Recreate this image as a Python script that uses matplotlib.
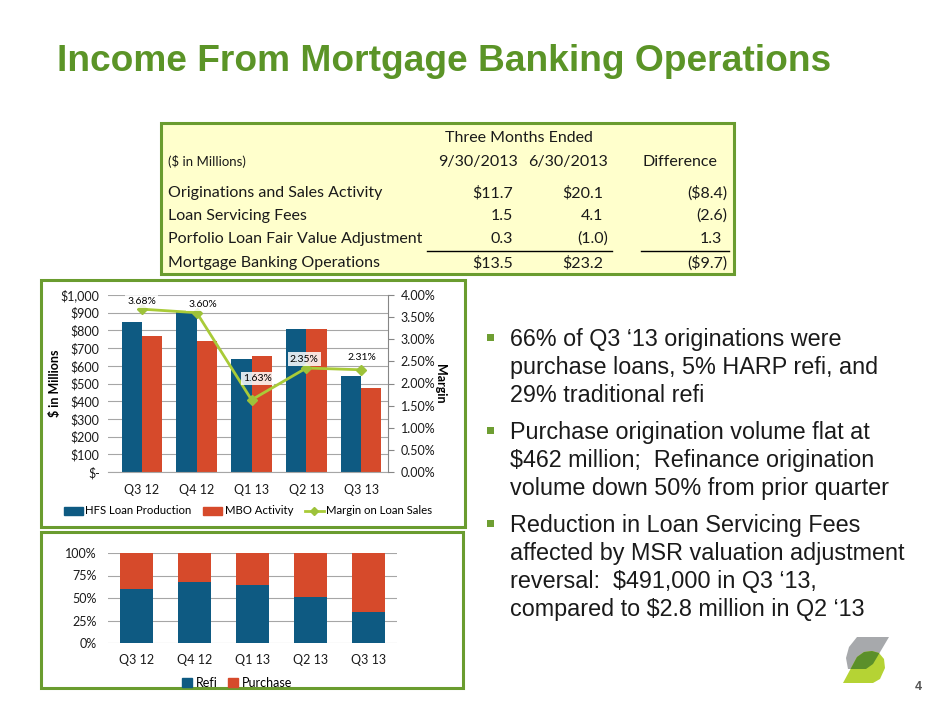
import numpy as np
import matplotlib
matplotlib.use("Agg")
import matplotlib.pyplot as plt
from matplotlib.patches import Rectangle, Polygon, Patch
from matplotlib.lines import Line2D
from matplotlib.ticker import FuncFormatter, MultipleLocator

plt.rcParams['font.family'] = ['Lato', 'DejaVu Sans']

# data
quarters = ['Q3 12', 'Q4 12', 'Q1 13', 'Q2 13', 'Q3 13']
hfs_production = [845, 902, 636, 806, 541]
mbo_activity = [768, 740, 655, 806, 477]
margin_pct = [3.68, 3.60, 1.63, 2.35, 2.31]
refi_share = [60, 68, 65, 51, 34]
purchase_share = [40, 32, 35, 49, 66]

table_rows = ['Originations and Sales Activity', 'Loan Servicing Fees',
              'Porfolio Loan Fair Value Adjustment', 'Mortgage Banking Operations']
q3_13_vals = ['$11.7', '1.5', '0.3', '$13.5']
q2_13_vals = ['$20.1', '4.1', '(1.0)', '$23.2']
diff_vals = ['($8.4)', '(2.6)', '1.3', '($9.7)']

bullets = [
    ['66% of Q3 \u201813 originations were',
     'purchase loans, 5% HARP refi, and',
     '29% traditional refi'],
    ['Purchase origination volume flat at',
     '$462 million;  Refinance origination',
     'volume down 50% from prior quarter'],
    ['Reduction in Loan Servicing Fees',
     'affected by MSR valuation adjustment',
     'reversal:  $491,000 in Q3 \u201813,',
     'compared to $2.8 million in Q2 \u201813'],
]

BLUE = '#0E5A82'
RED = '#D64A2B'
LIME = '#A9CB38'
GREEN = '#5B9427'
BOX = '#6A9C2F'
GRID = '#A6A6A6'
W, H = 940, 705

fig = plt.figure(figsize=(9.4, 7.05), dpi=100)

# overlay axes in pixel coordinates for the slide decorations
ov = fig.add_axes([0, 0, 1, 1])
ov.set_xlim(0, W)
ov.set_ylim(H, 0)
ov.axis('off')


def rect(l, t, r, b):
    return [l / W, 1 - b / H, (r - l) / W, (b - t) / H]


# title
ov.text(57, 71, 'Income From Mortgage Banking Operations', fontsize=26.7,
        weight='bold', color=GREEN, family='Liberation Sans', va='baseline')

# table
ov.add_patch(Rectangle((161, 123), 573, 151, fc='#FFFFCC', ec=BOX, lw=2.2))
tf = dict(fontsize=11.5, color='#1A1A1A', va='center')
ov.text(519, 138, 'Three Months Ended', ha='center', **tf)
ov.text(168, 162, '($ in Millions)', ha='left', fontsize=9.5, color='#1A1A1A', va='center')
ov.text(518, 162, '9/30/2013', ha='right', **tf)
ov.text(608, 162, '6/30/2013', ha='right', **tf)
ov.text(680, 162, 'Difference', ha='center', **tf)
row_y = [193, 216, 239, 263]
for i, y in enumerate(row_y):
    ov.text(168, y, table_rows[i], ha='left', **tf)
    for val, right in ((q3_13_vals[i], 518), (q2_13_vals[i], 608), (diff_vals[i], 727)):
        shift = 0 if val.endswith(')') else 5
        ov.text(right - shift, y, val, ha='right', **tf)
ov.plot([427, 612], [251, 251], color='black', lw=1)
ov.plot([641, 729], [251, 251], color='black', lw=1)

# chart boxes
ov.add_patch(Rectangle((41, 280), 424, 247, fc='none', ec=BOX, lw=2.2))
ov.add_patch(Rectangle((41, 532), 422, 156, fc='none', ec=BOX, lw=2.2))

# bullets
y0 = 346
for para in bullets:
    ov.add_patch(Rectangle((487, y0 - 12), 7, 7, fc='#6E9E32', ec='none'))
    for line in para:
        ov.text(510, y0, line, fontsize=16.8, family='Liberation Sans',
                color='#1A1A1A', va='baseline')
        y0 += 28
    y0 += 9

# logo
gray = Polygon([(857, 637), (889, 637), (873, 664), (866, 669), (848, 669),
                (846, 658), (849, 647)], closed=True, fc='#A7A9AC', ec='none')
lime = Polygon([(843, 683), (873, 683), (880, 679), (885, 668), (884, 659),
                (879, 653), (872, 651), (864, 652), (857, 657)],
               closed=True, fc='#B5D334', ec='none')
ov.add_patch(gray)
ov.add_patch(lime)
over = Polygon(lime.get_xy(), closed=True, fc='#5B8F2A', ec='none')
ov.add_patch(over)
over.set_clip_path(gray)
ov.text(918, 690, '4', fontsize=9, weight='bold', color='#555555',
        family='Liberation Sans', ha='center', va='baseline')

# top chart
x = np.arange(len(quarters))
bw = 0.37
ax1 = fig.add_axes(rect(108, 295, 388, 472))
ax1.set_facecolor('none')
ax1.bar(x - bw / 2, hfs_production, bw, color=BLUE, zorder=2)
ax1.bar(x + bw / 2, mbo_activity, bw, color=RED, zorder=2)
ax1.set_xlim(-0.62, 4.49)
ax1.set_ylim(0, 1000)
ax1.yaxis.set_major_locator(MultipleLocator(100))
ax1.yaxis.set_major_formatter(FuncFormatter(lambda v, p: '$-' if v == 0 else f'${v:,.0f}'))
ax1.yaxis.grid(True, color=GRID, lw=0.8)
ax1.set_axisbelow(True)
for s in ['left', 'top', 'right']:
    ax1.spines[s].set_visible(False)
ax1.spines['bottom'].set_color(GRID)
ax1.set_xticks(x)
ax1.set_xticklabels(quarters)
ax1.tick_params(axis='both', length=0, labelsize=9, colors='#1A1A1A')
ax1.tick_params(axis='x', pad=9)
ax1.tick_params(axis='y', pad=6)
ax1.set_ylabel('$ in Millions', fontsize=9, weight='bold', labelpad=0)

ax2 = ax1.twinx()
ax2.plot(x, margin_pct, color=LIME, lw=2, marker='D', ms=5, mfc='#9DC23A', mec='#9DC23A', zorder=3)
ax2.set_ylim(0, 4)
ax2.yaxis.set_major_locator(MultipleLocator(0.5))
ax2.yaxis.set_major_formatter(FuncFormatter(lambda v, p: f'{v:.2f}%'))
for s in ['left', 'top', 'bottom']:
    ax2.spines[s].set_visible(False)
ax2.spines['right'].set_color('#868686')
ax2.tick_params(axis='y', direction='out', length=4, color='#868686', labelsize=9,
                labelcolor='#1A1A1A', pad=5)
ax2.set_ylabel('Margin', fontsize=9, weight='bold', rotation=270, labelpad=8)
offsets = [(0, 8), (6, 8), (6, 21), (-2, 9), (1, 12)]
for xi, m, (dx, dy) in zip(x, margin_pct, offsets):
    ax2.annotate(f'{m:.2f}%', (xi, m), xytext=(dx / 1.389, dy / 1.389),
                 textcoords='offset points', ha='center', va='center', fontsize=7.5,
                 bbox=dict(boxstyle='square,pad=0.2', fc='white', ec='none', alpha=0.85))

handles = [Patch(color=BLUE), Patch(color=RED),
           Line2D([], [], color=LIME, lw=2, marker='D', ms=4, mfc='#9DC23A', mec='#9DC23A')]
fig.legend(handles, ['HFS Loan Production', 'MBO Activity', 'Margin on Loan Sales'],
           loc='center', bbox_to_anchor=(248 / W, 1 - 511 / H), ncol=3, frameon=False,
           fontsize=8.2, handlelength=1.7, handletextpad=0.2, columnspacing=1.0)

# bottom chart
ax3 = fig.add_axes(rect(108, 553, 397, 643))
ax3.set_facecolor('none')
bw2 = 0.57
ax3.bar(x, refi_share, bw2, color=BLUE, zorder=2)
ax3.bar(x, purchase_share, bw2, bottom=refi_share, color=RED, zorder=2)
ax3.set_xlim(-0.5, 4.5)
ax3.set_ylim(0, 100)
ax3.set_yticks([0, 25, 50, 75, 100])
ax3.yaxis.set_major_formatter(FuncFormatter(lambda v, p: f'{v:.0f}%'))
ax3.yaxis.grid(True, color=GRID, lw=0.8)
ax3.set_axisbelow(True)
for s in ax3.spines.values():
    s.set_visible(False)
ax3.set_xticks(x)
ax3.set_xticklabels(quarters)
ax3.tick_params(axis='both', length=0, labelsize=9, colors='#1A1A1A')
ax3.tick_params(axis='x', pad=8)
ax3.tick_params(axis='y', pad=8)
fig.legend([Patch(color=BLUE), Patch(color=RED)], ['Refi', 'Purchase'],
           loc='center', bbox_to_anchor=(237 / W, 1 - 683 / H), ncol=2, frameon=False,
           fontsize=9, handlelength=0.8, handleheight=0.8, handletextpad=0.3,
           columnspacing=0.8)

fig.savefig('out.png', dpi=100)
